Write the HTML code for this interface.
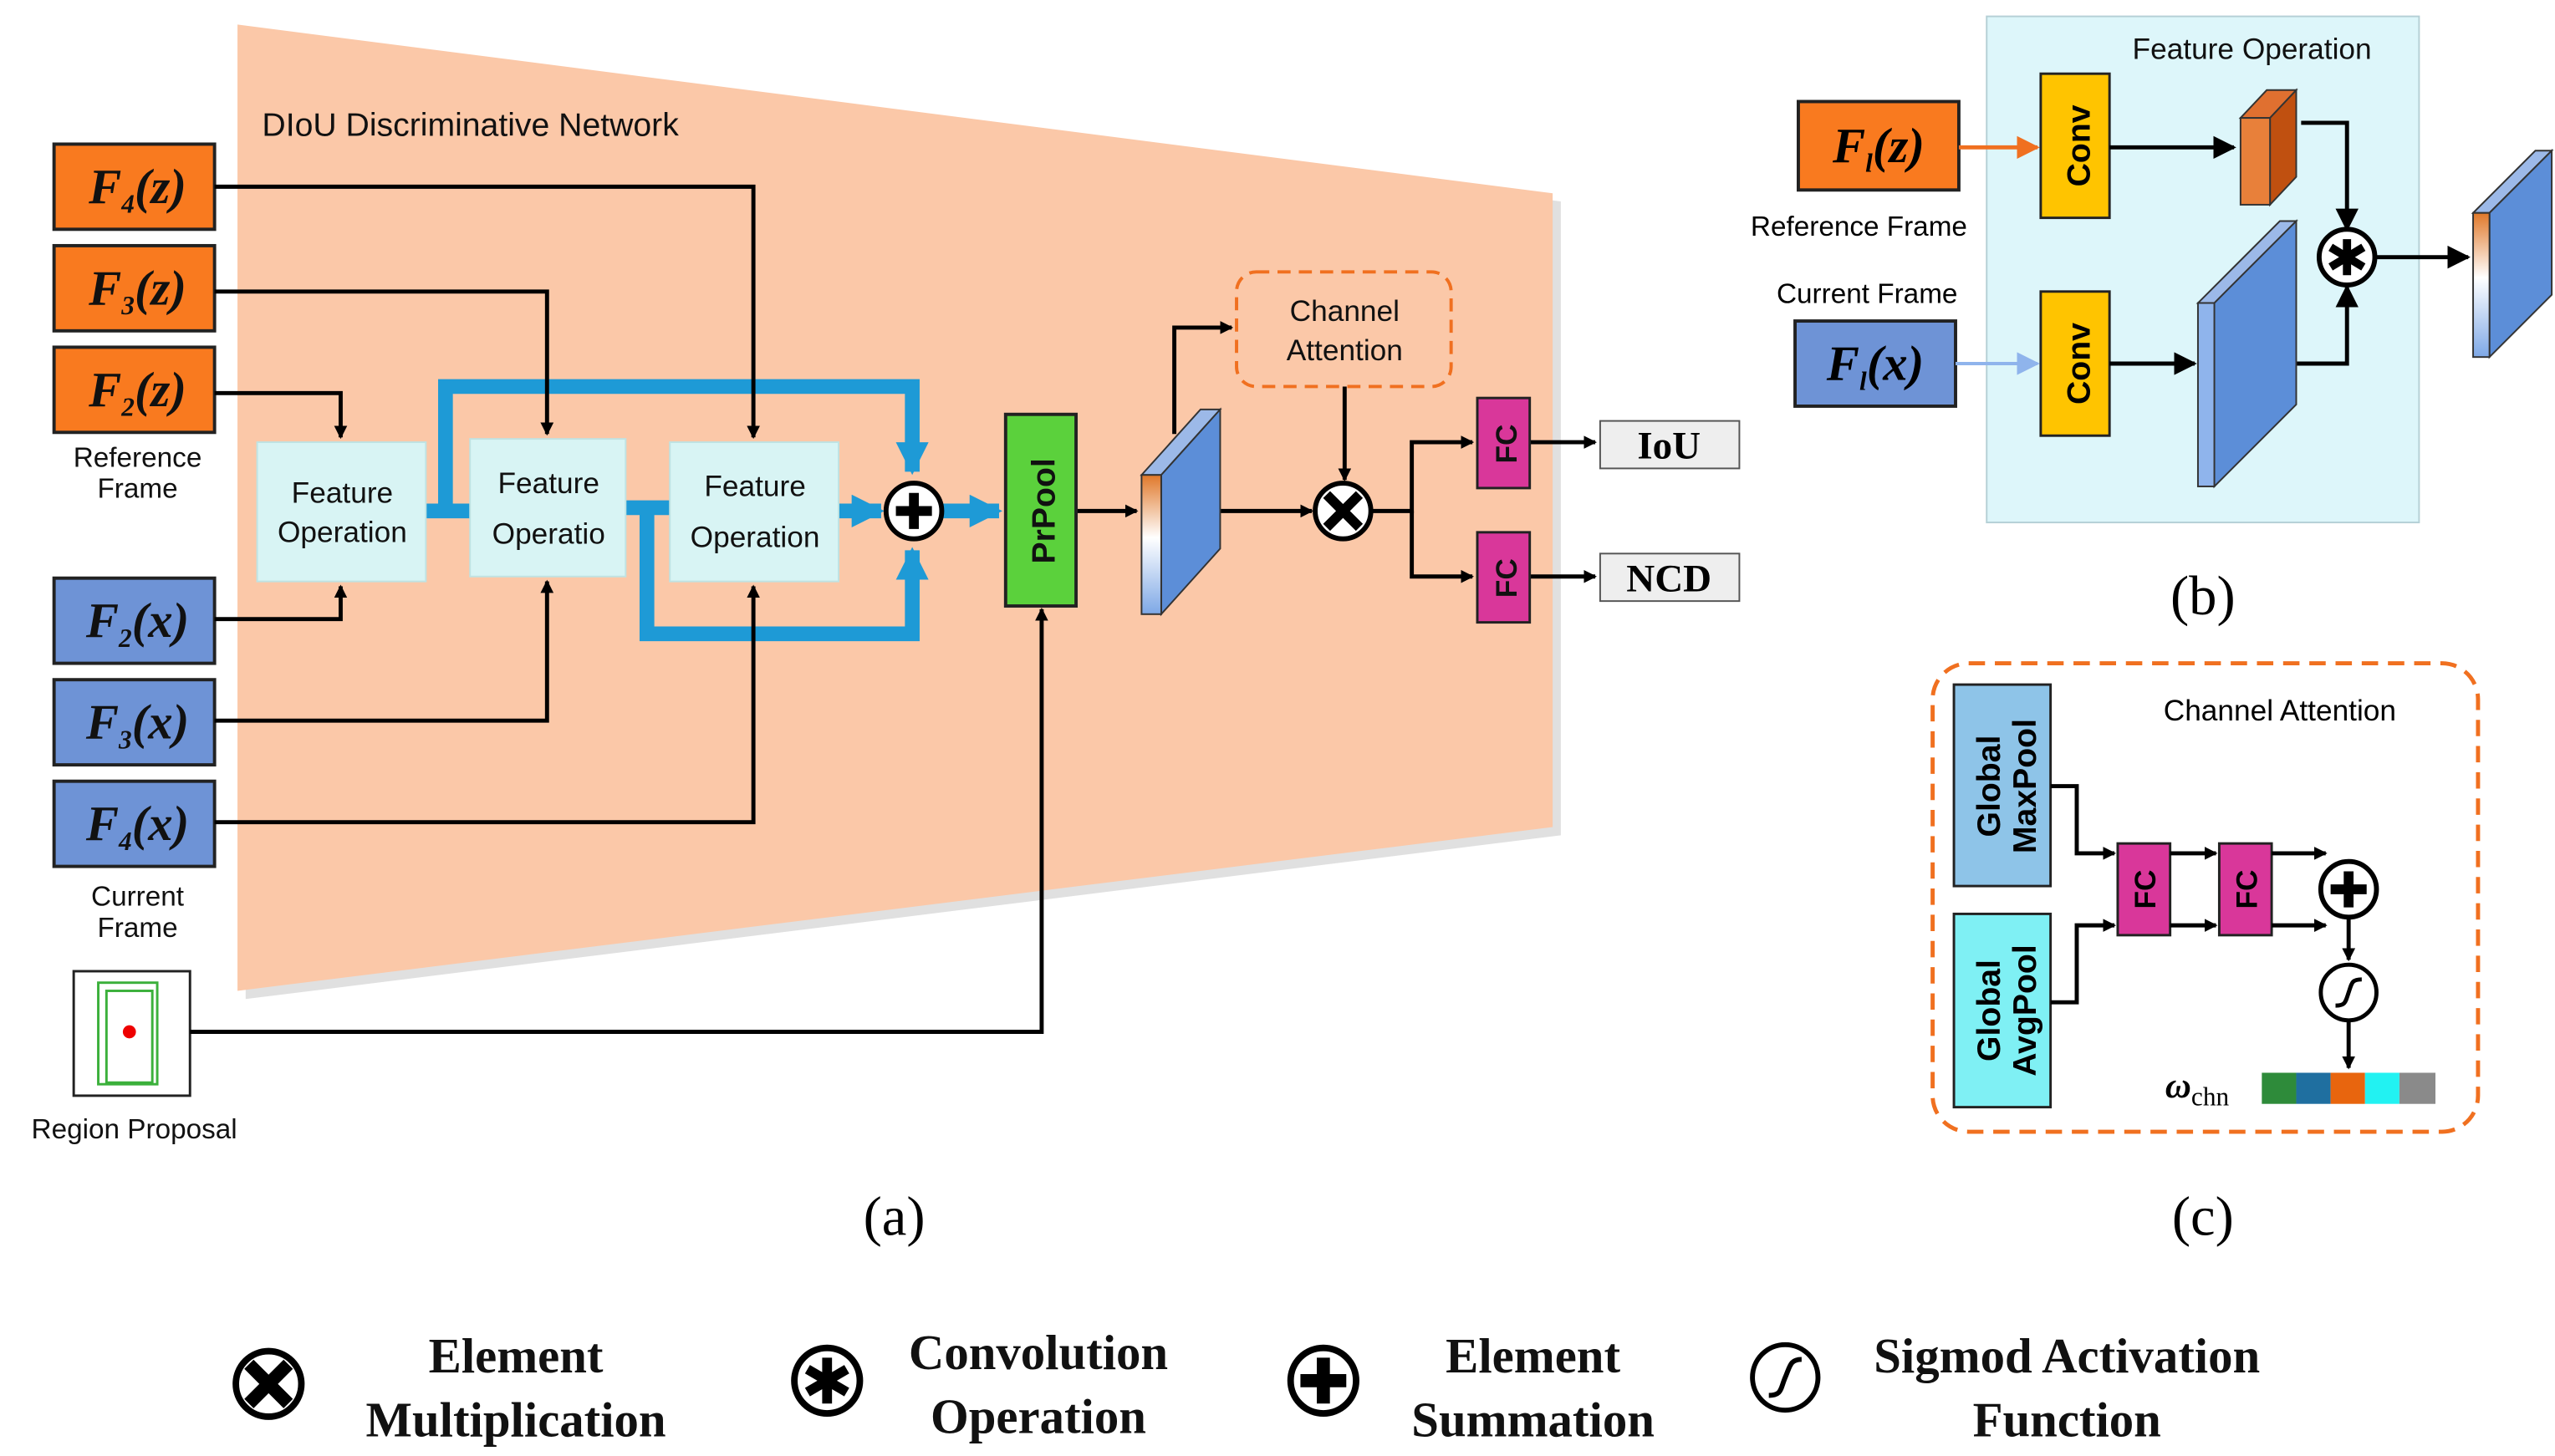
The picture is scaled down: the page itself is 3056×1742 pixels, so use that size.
<!DOCTYPE html>
<html><head><meta charset="utf-8"><style>
html,body{margin:0;padding:0;background:#fff;}
svg{display:block;}
text{font-family:"Liberation Sans",sans-serif;}
.s{font-family:"Liberation Serif",serif;}
</style></head><body>
<svg width="3056" height="1742" viewBox="0 0 1560 889" preserveAspectRatio="none" xmlns="http://www.w3.org/2000/svg">
<defs>
<marker id="a" markerWidth="8" markerHeight="8" refX="7" refY="4" orient="auto" markerUnits="userSpaceOnUse"><path d="M0,0 L8,4 L0,8 z" fill="#000"/></marker>
<marker id="ab" viewBox="0 0 10 10" markerWidth="14" markerHeight="14" refX="9" refY="5" orient="auto" markerUnits="userSpaceOnUse"><path d="M0,0 L10,5 L0,10 z" fill="#000"/></marker>
<marker id="bl" viewBox="0 0 10 10" markerWidth="20" markerHeight="20" refX="9" refY="5" orient="auto" markerUnits="userSpaceOnUse"><path d="M0,0 L10,5 L0,10 z" fill="#1E9AD6"/></marker>
<marker id="or" viewBox="0 0 10 10" markerWidth="14" markerHeight="14" refX="9" refY="5" orient="auto" markerUnits="userSpaceOnUse"><path d="M0,0 L10,5 L0,10 z" fill="#F07020"/></marker>
<marker id="lb" viewBox="0 0 10 10" markerWidth="14" markerHeight="14" refX="9" refY="5" orient="auto" markerUnits="userSpaceOnUse"><path d="M0,0 L10,5 L0,10 z" fill="#8FB4EC"/></marker>
<linearGradient id="fg" x1="0" y1="0" x2="0" y2="1"><stop offset="0" stop-color="#E0782A"/><stop offset="0.45" stop-color="#fff"/><stop offset="1" stop-color="#7EA8E6"/></linearGradient>
</defs>
<!-- trapezoid -->
<polygon points="150,20 953,123 953,510 150,610" fill="#ccc" opacity="0.6"/>
<polygon points="145,15 948,118 948,505 145,605" fill="#FBC8A8"/>
<text x="160" y="83" font-size="20" fill="#111">DIoU Discriminative Network</text>

<!-- left inputs -->
<g stroke="#222" stroke-width="2">
<rect x="33" y="88" width="98" height="52" fill="#F97A1F"/>
<rect x="33" y="150" width="98" height="52" fill="#F97A1F"/>
<rect x="33" y="212" width="98" height="52" fill="#F97A1F"/>
<rect x="33" y="353" width="98" height="52" fill="#6E93D6"/>
<rect x="33" y="415" width="98" height="52" fill="#6E93D6"/>
<rect x="33" y="477" width="98" height="52" fill="#6E93D6"/>
</g>
<g class="s" font-size="30" font-style="italic" font-weight="bold" text-anchor="middle" fill="#111">
<text class="s" x="84" y="124">F<tspan font-size="16" dy="6">4</tspan><tspan dy="-6">(z)</tspan></text>
<text class="s" x="84" y="186">F<tspan font-size="16" dy="6">3</tspan><tspan dy="-6">(z)</tspan></text>
<text class="s" x="84" y="248">F<tspan font-size="16" dy="6">2</tspan><tspan dy="-6">(z)</tspan></text>
<text class="s" x="84" y="389">F<tspan font-size="16" dy="6">2</tspan><tspan dy="-6">(x)</tspan></text>
<text class="s" x="84" y="451">F<tspan font-size="16" dy="6">3</tspan><tspan dy="-6">(x)</tspan></text>
<text class="s" x="84" y="513">F<tspan font-size="16" dy="6">4</tspan><tspan dy="-6">(x)</tspan></text>
</g>
<g font-size="17" text-anchor="middle" fill="#111">
<text x="84" y="285">Reference</text><text x="84" y="304">Frame</text>
<text x="84" y="553">Current</text><text x="84" y="572">Frame</text>
<text x="82" y="695">Region Proposal</text>
</g>
<rect x="45" y="593" width="71" height="76" fill="#fff" stroke="#222" stroke-width="1.5"/>
<rect x="60" y="600" width="36" height="62" fill="none" stroke="#3BB03B" stroke-width="1.5"/>
<rect x="65" y="605" width="28" height="56" fill="none" stroke="#3BB03B" stroke-width="1.5"/>
<circle cx="79" cy="630" r="4" fill="#E00"/>

<!-- blue thick connectors -->
<g stroke="#1E9AD6" stroke-width="9" fill="none">
<path d="M260,312 H287"/>
<path d="M382,310 H409"/>
<path d="M272,312 V236 H557 V288" marker-end="url(#bl)"/>
<path d="M395,310 V387 H557 V336" marker-end="url(#bl)"/>
<path d="M512,312 H538" marker-end="url(#bl)"/>
<path d="M575,312 H610" marker-end="url(#bl)"/>
</g>
<!-- feature operation boxes -->
<g fill="#D8F4F4" stroke="#BFE3E3">
<rect x="157" y="270" width="103" height="85"/>
<rect x="287" y="268" width="95" height="84"/>
<rect x="409" y="270" width="103" height="85"/>
</g>
<g font-size="18" text-anchor="middle" fill="#111">
<text x="209" y="307">Feature</text><text x="209" y="331">Operation</text>
<text x="335" y="301">Feature</text><text x="335" y="332">Operatio</text>
<text x="461" y="303">Feature</text><text x="461" y="334">Operation</text>
</g>
<!-- black connectors -->
<g stroke="#000" stroke-width="2.5" fill="none" marker-end="url(#a)">
<path d="M131,114 H460 V267"/>
<path d="M131,178 H334 V265"/>
<path d="M131,240 H208 V267"/>
<path d="M131,378 H208 V358"/>
<path d="M131,440 H334 V355"/>
<path d="M131,502 H460 V358"/>
<path d="M116,630 H636 V372"/>
<path d="M657,312 H694"/>
<path d="M717,312 H801"/>
<path d="M717,265 V200 H752"/>
<path d="M821,236 V293"/>
<path d="M838,312 H862 V270 H899"/>
<path d="M862,312 V352 H899"/>
<path d="M934,270 H974"/>
<path d="M934,352 H974"/>
</g>
<!-- plus circle -->
<circle cx="558" cy="312" r="17" fill="#fff" stroke="#000" stroke-width="3"/>
<path d="M547,312 H569 M558,301 V323" stroke="#000" stroke-width="6"/>
<!-- PrPool -->
<rect x="614" y="253" width="43" height="117" fill="#5BD13C" stroke="#222" stroke-width="2"/>
<text x="0" y="0" transform="translate(644,312) rotate(-90)" font-size="20" font-weight="bold" text-anchor="middle" fill="#111">PrPool</text>
<!-- feature map slab -->
<polygon points="697,290 733,250 745,250 709,290" fill="#9CB9E8" stroke="#333" stroke-width="1"/>
<polygon points="709,290 745,250 745,335 709,375" fill="#5C8ED8" stroke="#333" stroke-width="1"/>
<rect x="697" y="290" width="12" height="85" fill="url(#fg)" stroke="#333" stroke-width="1"/>
<!-- Channel attention -->
<rect x="755" y="166" width="131" height="70" rx="12" fill="#FBC8A8" stroke="#F07020" stroke-width="2" stroke-dasharray="8,5"/>
<text x="821" y="196" font-size="18" text-anchor="middle" fill="#111">Channel</text>
<text x="821" y="220" font-size="18" text-anchor="middle" fill="#111">Attention</text>
<!-- multiply -->
<circle cx="820" cy="312" r="17" fill="#fff" stroke="#000" stroke-width="3"/>
<path d="M810,302 L830,322 M830,302 L810,322" stroke="#000" stroke-width="6"/>
<!-- FC -->
<rect x="902" y="243" width="32" height="55" fill="#D9379A" stroke="#222" stroke-width="1.5"/>
<rect x="902" y="325" width="32" height="55" fill="#D9379A" stroke="#222" stroke-width="1.5"/>
<text transform="translate(926,271) rotate(-90)" font-size="18" font-weight="bold" text-anchor="middle" fill="#111">FC</text>
<text transform="translate(926,353) rotate(-90)" font-size="18" font-weight="bold" text-anchor="middle" fill="#111">FC</text>
<rect x="977" y="257" width="85" height="29" fill="#EEE" stroke="#555"/>
<rect x="977" y="338" width="85" height="29" fill="#EEE" stroke="#555"/>
<text class="s" x="1019" y="280" font-size="24" font-weight="bold" text-anchor="middle">IoU</text>
<text class="s" x="1019" y="361" font-size="24" font-weight="bold" text-anchor="middle">NCD</text>
<text class="s" x="546" y="754" font-size="34" text-anchor="middle">(a)</text>

<!-- (b) -->
<rect x="1213" y="10" width="264" height="309" fill="#DDF6FA" stroke="#B5D0D6"/>
<text x="1375" y="36" font-size="18" text-anchor="middle" fill="#111">Feature Operation</text>
<rect x="1098" y="62" width="98" height="54" fill="#F97A1F" stroke="#222" stroke-width="2"/>
<rect x="1096" y="196" width="98" height="52" fill="#6E93D6" stroke="#222" stroke-width="2"/>
<text class="s" x="1147" y="99" font-size="30" font-style="italic" font-weight="bold" text-anchor="middle">F<tspan font-size="16" dy="6">l</tspan><tspan dy="-6">(z)</tspan></text>
<text class="s" x="1145" y="232" font-size="30" font-style="italic" font-weight="bold" text-anchor="middle">F<tspan font-size="16" dy="6">l</tspan><tspan dy="-6">(x)</tspan></text>
<text x="1135" y="144" font-size="17" text-anchor="middle">Reference Frame</text>
<text x="1140" y="185" font-size="17" text-anchor="middle">Current Frame</text>
<path d="M1196,90 H1244" stroke="#F07020" stroke-width="2.5" marker-end="url(#or)"/>
<path d="M1194,222 H1244" stroke="#8FB4EC" stroke-width="2" marker-end="url(#lb)"/>
<rect x="1246" y="45" width="42" height="88" fill="#FFC400" stroke="#222" stroke-width="1.5"/>
<rect x="1246" y="178" width="42" height="88" fill="#FFC400" stroke="#222" stroke-width="1.5"/>
<text transform="translate(1276,89) rotate(-90)" font-size="20" font-weight="bold" text-anchor="middle">Conv</text>
<text transform="translate(1276,222) rotate(-90)" font-size="20" font-weight="bold" text-anchor="middle">Conv</text>
<g stroke="#000" stroke-width="2.5" fill="none" marker-end="url(#ab)">
<path d="M1288,90 H1364"/>
<path d="M1288,222 H1340"/>
<path d="M1405,75 H1433 V140"/>
<path d="M1380,222 H1433 V175"/>
<path d="M1451,157 H1507"/>
</g>
<!-- small orange slab -->
<polygon points="1368,72 1384,55 1402,55 1386,72" fill="#E07030" stroke="#333"/>
<polygon points="1386,72 1402,55 1402,108 1386,125" fill="#C05010" stroke="#333"/>
<rect x="1368" y="72" width="18" height="53" fill="#E8803A" stroke="#333"/>
<!-- big blue slab -->
<polygon points="1342,185 1392,135 1402,135 1352,185" fill="#9CB9E8" stroke="#333"/>
<polygon points="1352,185 1402,135 1402,247 1352,297" fill="#5C8ED8" stroke="#333"/>
<rect x="1342" y="185" width="10" height="112" fill="#8FB4EC" stroke="#333"/>
<!-- star circle -->
<circle cx="1433" cy="157" r="17" fill="#fff" stroke="#000" stroke-width="3"/>
<path d="M1433,146 V168 M1423,151 L1443,163 M1443,151 L1423,163" stroke="#000" stroke-width="5"/>
<!-- output slab -->
<polygon points="1510,130 1548,92 1558,92 1520,130" fill="#9CB9E8" stroke="#333"/>
<polygon points="1520,130 1558,92 1558,180 1520,218" fill="#5C8ED8" stroke="#333"/>
<rect x="1510" y="130" width="10" height="88" fill="url(#fg)" stroke="#333"/>
<text class="s" x="1345" y="375" font-size="34" text-anchor="middle">(b)</text>

<!-- (c) -->
<rect x="1180" y="405" width="333" height="286" rx="22" fill="#fff" stroke="#F07020" stroke-width="2.5" stroke-dasharray="10,6"/>
<text x="1392" y="440" font-size="18" text-anchor="middle">Channel Attention</text>
<rect x="1193" y="418" width="59" height="123" fill="#8EC4E8" stroke="#222" stroke-width="1.5"/>
<rect x="1193" y="558" width="59" height="118" fill="#7FF0F4" stroke="#222" stroke-width="1.5"/>
<text transform="translate(1221,480) rotate(-90)" font-size="20" font-weight="bold" text-anchor="middle">Global</text>
<text transform="translate(1243,480) rotate(-90)" font-size="20" font-weight="bold" text-anchor="middle">MaxPool</text>
<text transform="translate(1221,617) rotate(-90)" font-size="20" font-weight="bold" text-anchor="middle">Global</text>
<text transform="translate(1243,617) rotate(-90)" font-size="20" font-weight="bold" text-anchor="middle">AvgPool</text>
<rect x="1293" y="515" width="32" height="56" fill="#D9379A" stroke="#222" stroke-width="1.5"/>
<rect x="1355" y="515" width="32" height="56" fill="#D9379A" stroke="#222" stroke-width="1.5"/>
<text transform="translate(1316,543) rotate(-90)" font-size="18" font-weight="bold" text-anchor="middle">FC</text>
<text transform="translate(1378,543) rotate(-90)" font-size="18" font-weight="bold" text-anchor="middle">FC</text>
<g stroke="#000" stroke-width="2.5" fill="none" marker-end="url(#a)">
<path d="M1252,480 H1268 V521 H1291"/>
<path d="M1252,612 H1268 V565 H1291"/>
<path d="M1325,521 H1353"/>
<path d="M1325,565 H1353"/>
<path d="M1387,521 H1420"/>
<path d="M1387,565 H1420"/>
<path d="M1434,561 V586"/>
<path d="M1434,624 V652"/>
</g>
<circle cx="1434" cy="543" r="17" fill="#fff" stroke="#000" stroke-width="3"/>
<path d="M1423,543 H1445 M1434,532 V554" stroke="#000" stroke-width="6"/>
<circle cx="1434" cy="606" r="17" fill="#fff" stroke="#000" stroke-width="2.5"/>
<path d="M1426,614 C1432,614 1432,612 1434,606 C1436,600 1436,598 1442,598" stroke="#000" stroke-width="2.5" fill="none"/>
<text class="s" x="1322" y="670" font-size="22" font-weight="bold" font-style="italic">ω<tspan font-size="16" font-weight="normal" font-style="normal" dy="5">chn</tspan></text>
<rect x="1381" y="655" width="21" height="19" fill="#2E8B3A"/>
<rect x="1402" y="655" width="21" height="19" fill="#1F6FA0"/>
<rect x="1423" y="655" width="21" height="19" fill="#E8650E"/>
<rect x="1444" y="655" width="21" height="19" fill="#22F2F2"/>
<rect x="1465" y="655" width="22" height="19" fill="#8A8A8A"/>
<text class="s" x="1345" y="754" font-size="34" text-anchor="middle">(c)</text>

<!-- legend -->
<circle cx="164" cy="845" r="20" fill="#fff" stroke="#000" stroke-width="4"/>
<path d="M152,833 L176,857 M176,833 L152,857" stroke="#000" stroke-width="8"/>
<circle cx="505" cy="843" r="20" fill="#fff" stroke="#000" stroke-width="4"/>
<path d="M505,829 V857 M493,836 L517,850 M517,836 L493,850" stroke="#000" stroke-width="6"/>
<circle cx="808" cy="843" r="20" fill="#fff" stroke="#000" stroke-width="4"/>
<path d="M794,843 H822 M808,829 V857" stroke="#000" stroke-width="8"/>
<circle cx="1090" cy="841" r="20" fill="#fff" stroke="#000" stroke-width="3"/>
<path d="M1080,852 C1088,852 1087,848 1090,841 C1093,834 1093,830 1100,830" stroke="#000" stroke-width="3" fill="none"/>
<g class="s" font-size="30" font-weight="bold" text-anchor="middle" fill="#111">
<text class="s" x="315" y="838">Element</text><text class="s" x="315" y="877">Multiplication</text>
<text class="s" x="634" y="836">Convolution</text><text class="s" x="634" y="875">Operation</text>
<text class="s" x="936" y="838">Element</text><text class="s" x="936" y="877">Summation</text>
<text class="s" x="1262" y="838">Sigmod Activation</text><text class="s" x="1262" y="877">Function</text>
</g>
</svg>
</body></html>
